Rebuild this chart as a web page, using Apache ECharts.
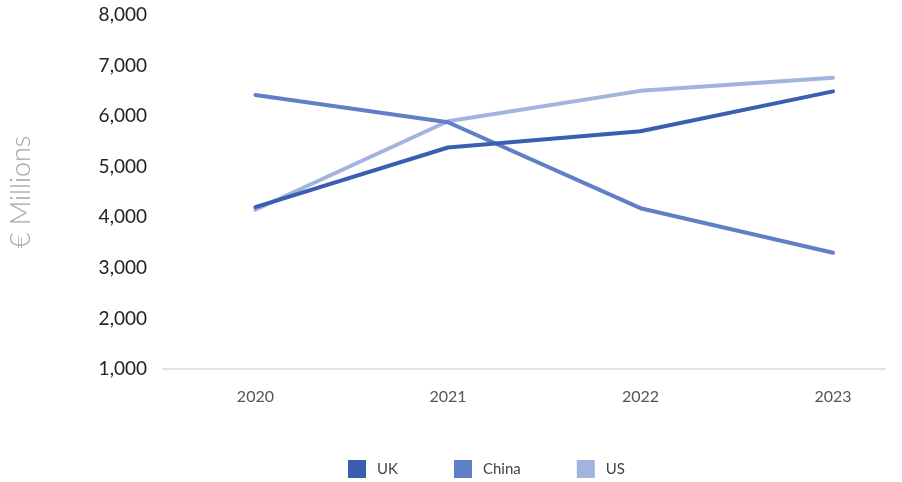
<!DOCTYPE html>
<html>
<head>
<meta charset="utf-8">
<script src="https://cdn.jsdelivr.net/npm/echarts@6/dist/echarts.min.js"></script>
<style>html,body{margin:0;padding:0;background:#fff}#c{width:902px;height:482px}</style>
</head>
<body>
<div id="c"></div>
<script>
const years = [2020, 2021, 2022, 2023];
const uk = [4200, 5380, 5700, 6490];
const china = [6420, 5880, 4180, 3300];
const us = [4150, 5900, 6500, 6760];
const seriesNames = ['UK', 'China', 'US'];
const colors = ['#3a5fb1', '#5f7fc6', '#a2b3df'];

const chart = echarts.init(document.getElementById('c'));
const toPairs = arr => years.map((y, i) => [y, arr[i]]);
const datasets = [uk, china, us];

chart.setOption({
  animation: false,
  textStyle: { fontFamily: 'Lato' },
  grid: { left: 155, right: 17, top: 15, bottom: 113 },
  legend: {
    top: 460,
    left: 348,
    icon: 'rect',
    itemWidth: 18,
    itemHeight: 18,
    itemGap: 56,
    padding: 0,
    textStyle: { fontSize: 15, color: '#444', fontFamily: 'Lato', padding: [0, 0, 0, 6] },
    data: seriesNames
  },
  xAxis: {
    type: 'value',
    min: 2019.52,
    max: 2023.27,
    axisLine: { show: true, onZero: false, lineStyle: { color: '#d9d9d9', width: 1.5 } },
    axisTick: { show: false },
    splitLine: { show: false },
    axisLabel: {
      customValues: years,
      margin: 20,
      fontSize: 16,
      color: '#555',
      formatter: v => String(v)
    }
  },
  yAxis: {
    type: 'value',
    min: 1000,
    max: 8000,
    interval: 1000,
    name: '€ Millions',
    nameLocation: 'middle',
    nameGap: 128,
    nameTextStyle: { fontSize: 27, color: '#a6a6a6', fontWeight: 300, fontFamily: 'Lato' },
    axisLine: { show: false },
    axisTick: { show: false },
    splitLine: { show: false },
    axisLabel: {
      margin: 16,
      fontSize: 19,
      color: '#222',
      formatter: v => v.toLocaleString('en-US')
    }
  },
  series: seriesNames.map((n, i) => ({
    name: n,
    type: 'line',
    data: toPairs(datasets[i]),
    showSymbol: false,
    symbol: 'none',
    color: colors[i],
    lineStyle: { width: 4, color: colors[i], cap: 'round' },
    z: 3 - i
  }))
});
</script>
</body>
</html>
